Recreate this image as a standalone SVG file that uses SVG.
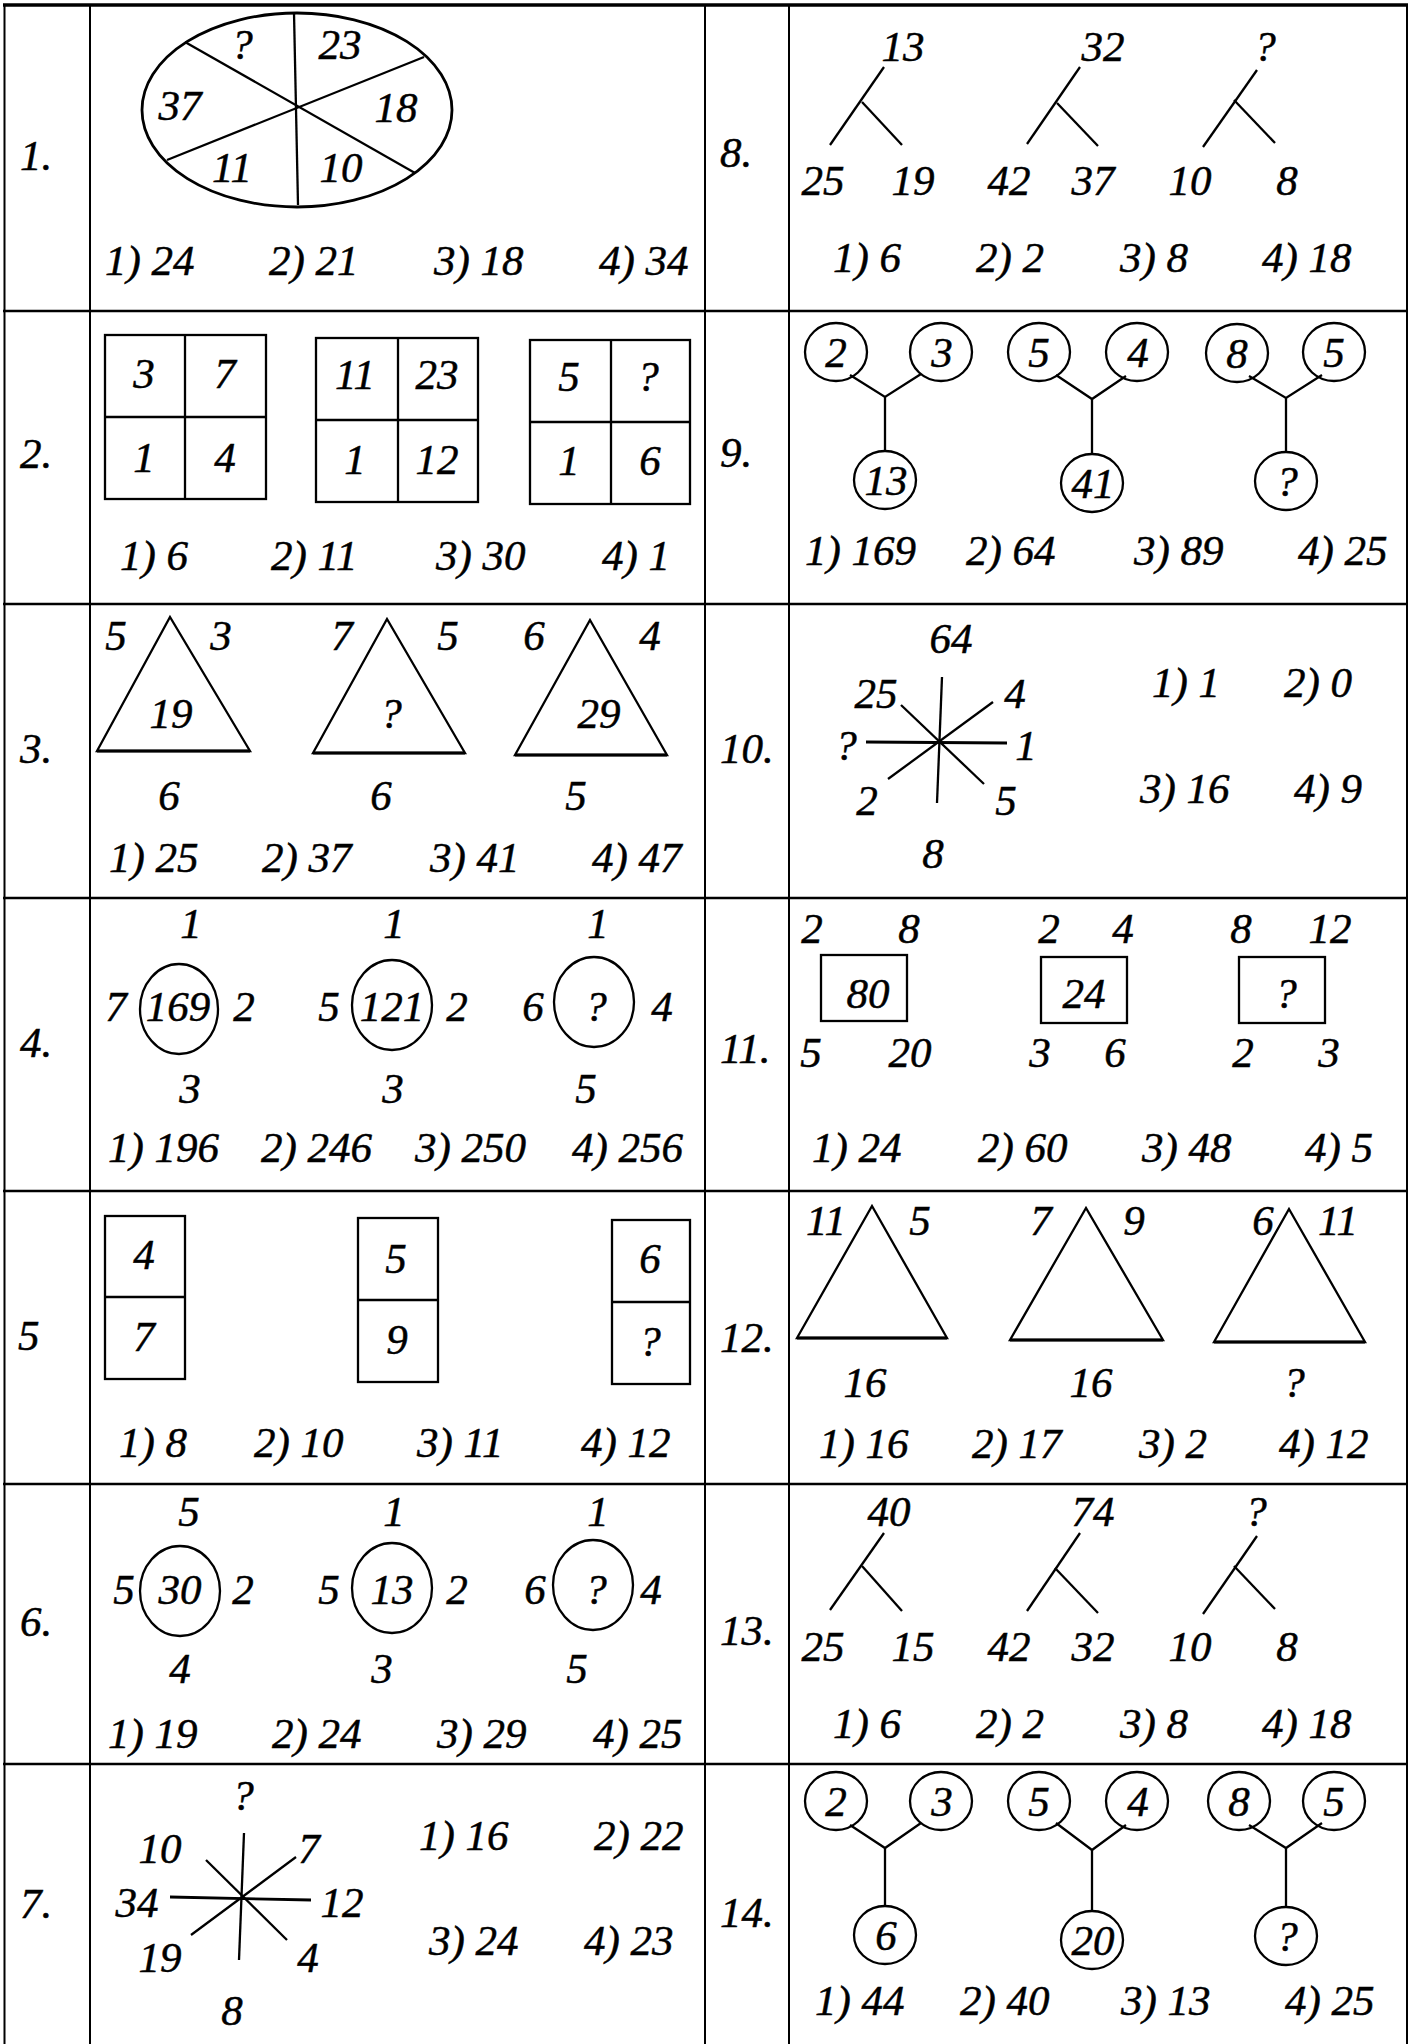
<svg xmlns="http://www.w3.org/2000/svg" width="1411" height="2044" viewBox="0 0 1411 2044">
<style>
text{font-family:"Liberation Serif","Times New Roman",serif;font-style:italic;font-size:43px;fill:#000;stroke:#000;stroke-width:0.5}
.c{text-anchor:middle}
.ln{stroke:#000;stroke-width:2.3;fill:none}
.sh{fill:none;stroke:#000;stroke-width:2.3}
.bs{stroke:#000;stroke-width:3.2;fill:none}
.grid{stroke:#000;stroke-width:2;fill:none}
</style>
<rect x="0" y="0" width="1411" height="2044" fill="#fff"/>
<g id="table">
<line class="grid" x1="3" y1="5" x2="1408" y2="5" style="stroke-width:3.5"/>
<line class="grid" x1="3" y1="311" x2="1408" y2="311" style="stroke-width:2.5"/>
<line class="grid" x1="3" y1="604" x2="1408" y2="604" style="stroke-width:2.5"/>
<line class="grid" x1="3" y1="898" x2="1408" y2="898" style="stroke-width:2.5"/>
<line class="grid" x1="3" y1="1191" x2="1408" y2="1191" style="stroke-width:2.5"/>
<line class="grid" x1="3" y1="1484" x2="1408" y2="1484" style="stroke-width:2.5"/>
<line class="grid" x1="3" y1="1764" x2="1408" y2="1764" style="stroke-width:2.5"/>
<line class="grid" x1="4.5" y1="4" x2="4.5" y2="2044"/>
<line class="grid" x1="90" y1="4" x2="90" y2="2044"/>
<line class="grid" x1="705" y1="4" x2="705" y2="2044"/>
<line class="grid" x1="789" y1="4" x2="789" y2="2044"/>
<line class="grid" x1="1407" y1="4" x2="1407" y2="2044"/>
</g>
<g id="labels">
<text x="20" y="170">1.</text>
<text x="20" y="468">2.</text>
<text x="20" y="763">3.</text>
<text x="20" y="1057">4.</text>
<text x="18" y="1350">5</text>
<text x="20" y="1636">6.</text>
<text x="20" y="1918">7.</text>
<text x="720" y="167">8.</text>
<text x="720" y="467">9.</text>
<text x="720" y="763">10.</text>
<text x="720" y="1063">11.</text>
<text x="720" y="1352">12.</text>
<text x="720" y="1645">13.</text>
<text x="720" y="1927">14.</text>
</g>
<g id="q1">
<ellipse class="sh" cx="297" cy="110" rx="155" ry="97" style="stroke-width:2.8"/>
<line class="ln" x1="294" y1="13" x2="298" y2="205"/>
<line class="ln" x1="185" y1="42" x2="415" y2="173"/>
<line class="ln" x1="424" y1="57" x2="167" y2="160"/>
<text class="c" x="242" y="59">?</text>
<text class="c" x="340" y="59">23</text>
<text class="c" x="180" y="120">37</text>
<text class="c" x="396" y="122">18</text>
<text class="c" x="232" y="182">11</text>
<text class="c" x="341" y="182">10</text>
<text x="105" y="275">1) 24</text>
<text x="269" y="275">2) 21</text>
<text x="434" y="275">3) 18</text>
<text x="599" y="275">4) 34</text>
</g>
<g id="q8">
<line class="ln" x1="884" y1="67" x2="830" y2="145"/>
<line class="ln" x1="862" y1="102" x2="902" y2="145"/>
<line class="ln" x1="1080" y1="67" x2="1027" y2="144"/>
<line class="ln" x1="1057" y1="103" x2="1098" y2="146"/>
<line class="ln" x1="1257" y1="70" x2="1203" y2="147"/>
<line class="ln" x1="1234" y1="100" x2="1275" y2="143"/>
<text class="c" x="903" y="61">13</text>
<text class="c" x="1103" y="61">32</text>
<text class="c" x="1265" y="61">?</text>
<text class="c" x="823" y="195">25</text>
<text class="c" x="913" y="195">19</text>
<text class="c" x="1009" y="195">42</text>
<text class="c" x="1093" y="195">37</text>
<text class="c" x="1190" y="195">10</text>
<text class="c" x="1287" y="195">8</text>
<text x="833" y="272">1) 6</text>
<text x="976" y="272">2) 2</text>
<text x="1120" y="272">3) 8</text>
<text x="1262" y="272">4) 18</text>
</g>
<g id="q2">
<rect class="sh" x="105" y="335" width="161" height="164"/>
<line class="ln" x1="185" y1="335" x2="185" y2="499"/>
<line class="ln" x1="105" y1="417" x2="266" y2="417"/>
<rect class="sh" x="316" y="338" width="162" height="164"/>
<line class="ln" x1="398" y1="338" x2="398" y2="502"/>
<line class="ln" x1="316" y1="420" x2="478" y2="420"/>
<rect class="sh" x="530" y="340" width="160" height="164"/>
<line class="ln" x1="611" y1="340" x2="611" y2="504"/>
<line class="ln" x1="530" y1="422" x2="690" y2="422"/>
<text class="c" x="144" y="388">3</text>
<text class="c" x="225" y="388">7</text>
<text class="c" x="144" y="472">1</text>
<text class="c" x="225" y="472">4</text>
<text class="c" x="355" y="389">11</text>
<text class="c" x="437" y="389">23</text>
<text class="c" x="355" y="474">1</text>
<text class="c" x="437" y="474">12</text>
<text class="c" x="569" y="391">5</text>
<text class="c" x="648" y="391">?</text>
<text class="c" x="569" y="475">1</text>
<text class="c" x="650" y="475">6</text>
<text x="120" y="570">1) 6</text>
<text x="271" y="570">2) 11</text>
<text x="436" y="570">3) 30</text>
<text x="602" y="570">4) 1</text>
</g>
<g id="q9">
<polyline class="ln" points="850,375 885,397 921,374"/>
<line class="ln" x1="885" y1="397" x2="885" y2="451"/>
<polyline class="ln" points="1056,375 1092,399 1126,376"/>
<line class="ln" x1="1092" y1="399" x2="1092" y2="454"/>
<polyline class="ln" points="1249,376 1286,398 1322,375"/>
<line class="ln" x1="1286" y1="398" x2="1286" y2="452"/>
<ellipse class="sh" cx="836" cy="352" rx="31" ry="29"/>
<ellipse class="sh" cx="941" cy="352" rx="31" ry="29"/>
<ellipse class="sh" cx="1039" cy="352" rx="31" ry="29"/>
<ellipse class="sh" cx="1137" cy="352" rx="31" ry="29"/>
<ellipse class="sh" cx="1237" cy="353" rx="31" ry="29"/>
<ellipse class="sh" cx="1334" cy="352" rx="31" ry="29"/>
<ellipse class="sh" cx="885" cy="480" rx="31" ry="29"/>
<ellipse class="sh" cx="1092" cy="483" rx="31" ry="29"/>
<ellipse class="sh" cx="1286" cy="481" rx="31" ry="29"/>
<text class="c" x="836" y="367">2</text>
<text class="c" x="942" y="367">3</text>
<text class="c" x="1039" y="367">5</text>
<text class="c" x="1138" y="367">4</text>
<text class="c" x="1237" y="368">8</text>
<text class="c" x="1334" y="367">5</text>
<text class="c" x="886" y="495">13</text>
<text class="c" x="1093" y="498">41</text>
<text class="c" x="1287" y="496">?</text>
<text x="805" y="565">1) 169</text>
<text x="966" y="565">2) 64</text>
<text x="1134" y="565">3) 89</text>
<text x="1298" y="565">4) 25</text>
</g>
<g id="q3">
<polygon class="sh" points="170,617 97,751 250,751"/>
<line class="bs" x1="97" y1="751" x2="250" y2="751"/>
<polygon class="sh" points="387,619 313,753 465,753"/>
<line class="bs" x1="313" y1="753" x2="465" y2="753"/>
<polygon class="sh" points="590,620 515,755 667,755"/>
<line class="bs" x1="515" y1="755" x2="667" y2="755"/>
<text class="c" x="116" y="650">5</text>
<text class="c" x="221" y="650">3</text>
<text class="c" x="171" y="728">19</text>
<text class="c" x="169" y="810">6</text>
<text class="c" x="342" y="650">7</text>
<text class="c" x="448" y="650">5</text>
<text class="c" x="391" y="728">?</text>
<text class="c" x="381" y="810">6</text>
<text class="c" x="534" y="650">6</text>
<text class="c" x="650" y="650">4</text>
<text class="c" x="599" y="728">29</text>
<text class="c" x="576" y="810">5</text>
<text x="109" y="872">1) 25</text>
<text x="262" y="872">2) 37</text>
<text x="430" y="872">3) 41</text>
<text x="592" y="872">4) 47</text>
</g>
<g id="q10">
<line class="ln" x1="942" y1="677" x2="937" y2="803"/>
<line class="ln" x1="866" y1="742" x2="1007" y2="743" style="stroke-width:2.8"/>
<line class="ln" x1="901" y1="705" x2="984" y2="784"/>
<line class="ln" x1="993" y1="702" x2="888" y2="779"/>
<text class="c" x="951" y="653">64</text>
<text class="c" x="876" y="708">25</text>
<text class="c" x="1015" y="708">4</text>
<text class="c" x="846" y="760">?</text>
<text class="c" x="1026" y="760">1</text>
<text class="c" x="867" y="815">2</text>
<text class="c" x="1006" y="815">5</text>
<text class="c" x="933" y="868">8</text>
<text x="1152" y="697">1) 1</text>
<text x="1284" y="697">2) 0</text>
<text x="1140" y="803">3) 16</text>
<text x="1294" y="803">4) 9</text>
</g>
<g id="q4">
<ellipse class="sh" cx="179" cy="1009" rx="39" ry="45"/>
<ellipse class="sh" cx="392" cy="1005" rx="40" ry="45"/>
<ellipse class="sh" cx="594" cy="1002" rx="40" ry="45"/>
<text class="c" x="191" y="938">1</text>
<text class="c" x="116" y="1021">7</text>
<text class="c" x="178" y="1021">169</text>
<text class="c" x="244" y="1021">2</text>
<text class="c" x="190" y="1103">3</text>
<text class="c" x="394" y="938">1</text>
<text class="c" x="329" y="1021">5</text>
<text class="c" x="392" y="1021">121</text>
<text class="c" x="457" y="1021">2</text>
<text class="c" x="393" y="1103">3</text>
<text class="c" x="598" y="938">1</text>
<text class="c" x="533" y="1021">6</text>
<text class="c" x="596" y="1021">?</text>
<text class="c" x="662" y="1021">4</text>
<text class="c" x="586" y="1103">5</text>
<text x="108" y="1162">1) 196</text>
<text x="261" y="1162">2) 246</text>
<text x="415" y="1162">3) 250</text>
<text x="572" y="1162">4) 256</text>
</g>
<g id="q11">
<rect class="sh" x="821" y="955" width="86" height="66"/>
<rect class="sh" x="1041" y="957" width="86" height="66"/>
<rect class="sh" x="1239" y="957" width="86" height="66"/>
<text class="c" x="812" y="943">2</text>
<text class="c" x="909" y="943">8</text>
<text class="c" x="868" y="1008">80</text>
<text class="c" x="811" y="1067">5</text>
<text class="c" x="910" y="1067">20</text>
<text class="c" x="1049" y="943">2</text>
<text class="c" x="1123" y="943">4</text>
<text class="c" x="1084" y="1008">24</text>
<text class="c" x="1040" y="1067">3</text>
<text class="c" x="1115" y="1067">6</text>
<text class="c" x="1241" y="943">8</text>
<text class="c" x="1330" y="943">12</text>
<text class="c" x="1286" y="1008">?</text>
<text class="c" x="1243" y="1067">2</text>
<text class="c" x="1329" y="1067">3</text>
<text x="812" y="1162">1) 24</text>
<text x="978" y="1162">2) 60</text>
<text x="1142" y="1162">3) 48</text>
<text x="1305" y="1162">4) 5</text>
</g>
<g id="q5">
<rect class="sh" x="105" y="1216" width="80" height="163"/>
<line class="ln" x1="105" y1="1297" x2="185" y2="1297"/>
<rect class="sh" x="358" y="1218" width="80" height="164"/>
<line class="ln" x1="358" y1="1300" x2="438" y2="1300"/>
<rect class="sh" x="612" y="1220" width="78" height="164"/>
<line class="ln" x1="612" y1="1302" x2="690" y2="1302"/>
<text class="c" x="144" y="1269">4</text>
<text class="c" x="144" y="1351">7</text>
<text class="c" x="396" y="1273">5</text>
<text class="c" x="397" y="1354">9</text>
<text class="c" x="650" y="1273">6</text>
<text class="c" x="650" y="1356">?</text>
<text x="119" y="1457">1) 8</text>
<text x="254" y="1457">2) 10</text>
<text x="417" y="1457">3) 11</text>
<text x="581" y="1457">4) 12</text>
</g>
<g id="q12">
<polygon class="sh" points="872,1206 797,1338 947,1338"/>
<line class="bs" x1="797" y1="1338" x2="947" y2="1338"/>
<polygon class="sh" points="1086,1208 1010,1340 1163,1340"/>
<line class="bs" x1="1010" y1="1340" x2="1163" y2="1340"/>
<polygon class="sh" points="1289,1209 1214,1342 1365,1342"/>
<line class="bs" x1="1214" y1="1342" x2="1365" y2="1342"/>
<text class="c" x="826" y="1235">11</text>
<text class="c" x="920" y="1235">5</text>
<text class="c" x="1041" y="1235">7</text>
<text class="c" x="1134" y="1235">9</text>
<text class="c" x="1263" y="1235">6</text>
<text class="c" x="1338" y="1235">11</text>
<text class="c" x="865" y="1397">16</text>
<text class="c" x="1091" y="1397">16</text>
<text class="c" x="1294" y="1397">?</text>
<text x="819" y="1458">1) 16</text>
<text x="972" y="1458">2) 17</text>
<text x="1139" y="1458">3) 2</text>
<text x="1279" y="1458">4) 12</text>
</g>
<g id="q6">
<ellipse class="sh" cx="180" cy="1591" rx="40" ry="45"/>
<ellipse class="sh" cx="392" cy="1588" rx="40" ry="45"/>
<ellipse class="sh" cx="593" cy="1585" rx="40" ry="45"/>
<text class="c" x="189" y="1526">5</text>
<text class="c" x="124" y="1604">5</text>
<text class="c" x="180" y="1604">30</text>
<text class="c" x="243" y="1604">2</text>
<text class="c" x="180" y="1683">4</text>
<text class="c" x="394" y="1526">1</text>
<text class="c" x="329" y="1604">5</text>
<text class="c" x="392" y="1604">13</text>
<text class="c" x="457" y="1604">2</text>
<text class="c" x="382" y="1683">3</text>
<text class="c" x="598" y="1526">1</text>
<text class="c" x="535" y="1604">6</text>
<text class="c" x="596" y="1604">?</text>
<text class="c" x="651" y="1604">4</text>
<text class="c" x="577" y="1683">5</text>
<text x="108" y="1748">1) 19</text>
<text x="272" y="1748">2) 24</text>
<text x="437" y="1748">3) 29</text>
<text x="593" y="1748">4) 25</text>
</g>
<g id="q13">
<line class="ln" x1="884" y1="1533" x2="830" y2="1610"/>
<line class="ln" x1="862" y1="1566" x2="902" y2="1611"/>
<line class="ln" x1="1080" y1="1533" x2="1027" y2="1611"/>
<line class="ln" x1="1055" y1="1568" x2="1098" y2="1613"/>
<line class="ln" x1="1257" y1="1536" x2="1203" y2="1614"/>
<line class="ln" x1="1234" y1="1566" x2="1275" y2="1609"/>
<text class="c" x="889" y="1526">40</text>
<text class="c" x="1093" y="1526">74</text>
<text class="c" x="1256" y="1526">?</text>
<text class="c" x="823" y="1661">25</text>
<text class="c" x="913" y="1661">15</text>
<text class="c" x="1009" y="1661">42</text>
<text class="c" x="1093" y="1661">32</text>
<text class="c" x="1190" y="1661">10</text>
<text class="c" x="1287" y="1661">8</text>
<text x="833" y="1738">1) 6</text>
<text x="976" y="1738">2) 2</text>
<text x="1120" y="1738">3) 8</text>
<text x="1262" y="1738">4) 18</text>
</g>
<g id="q7">
<line class="ln" x1="244" y1="1833" x2="239" y2="1960"/>
<line class="ln" x1="170" y1="1897" x2="311" y2="1900" style="stroke-width:2.8"/>
<line class="ln" x1="206" y1="1860" x2="287" y2="1940"/>
<line class="ln" x1="296" y1="1857" x2="191" y2="1935"/>
<text class="c" x="243" y="1810">?</text>
<text class="c" x="160" y="1863">10</text>
<text class="c" x="309" y="1863">7</text>
<text class="c" x="137" y="1917">34</text>
<text class="c" x="342" y="1917">12</text>
<text class="c" x="160" y="1972">19</text>
<text class="c" x="308" y="1972">4</text>
<text class="c" x="232" y="2025">8</text>
<text x="419" y="1850">1) 16</text>
<text x="594" y="1850">2) 22</text>
<text x="429" y="1955">3) 24</text>
<text x="584" y="1955">4) 23</text>
</g>
<g id="q14">
<polyline class="ln" points="850,1825 885,1848 921,1823"/>
<line class="ln" x1="885" y1="1848" x2="885" y2="1907"/>
<polyline class="ln" points="1056,1823 1092,1850 1126,1825"/>
<line class="ln" x1="1092" y1="1850" x2="1092" y2="1912"/>
<polyline class="ln" points="1249,1825 1286,1848 1322,1823"/>
<line class="ln" x1="1286" y1="1848" x2="1286" y2="1908"/>
<ellipse class="sh" cx="836" cy="1801" rx="31" ry="29"/>
<ellipse class="sh" cx="941" cy="1801" rx="31" ry="29"/>
<ellipse class="sh" cx="1039" cy="1801" rx="31" ry="29"/>
<ellipse class="sh" cx="1137" cy="1801" rx="31" ry="29"/>
<ellipse class="sh" cx="1239" cy="1801" rx="31" ry="29"/>
<ellipse class="sh" cx="1334" cy="1801" rx="31" ry="29"/>
<ellipse class="sh" cx="885" cy="1935" rx="31" ry="29"/>
<ellipse class="sh" cx="1092" cy="1940" rx="31" ry="29"/>
<ellipse class="sh" cx="1286" cy="1936" rx="31" ry="29"/>
<text class="c" x="836" y="1816">2</text>
<text class="c" x="942" y="1816">3</text>
<text class="c" x="1039" y="1816">5</text>
<text class="c" x="1138" y="1816">4</text>
<text class="c" x="1239" y="1816">8</text>
<text class="c" x="1334" y="1816">5</text>
<text class="c" x="886" y="1950">6</text>
<text class="c" x="1093" y="1955">20</text>
<text class="c" x="1287" y="1951">?</text>
<text x="815" y="2015">1) 44</text>
<text x="960" y="2015">2) 40</text>
<text x="1121" y="2015">3) 13</text>
<text x="1285" y="2015">4) 25</text>
</g>
</svg>
